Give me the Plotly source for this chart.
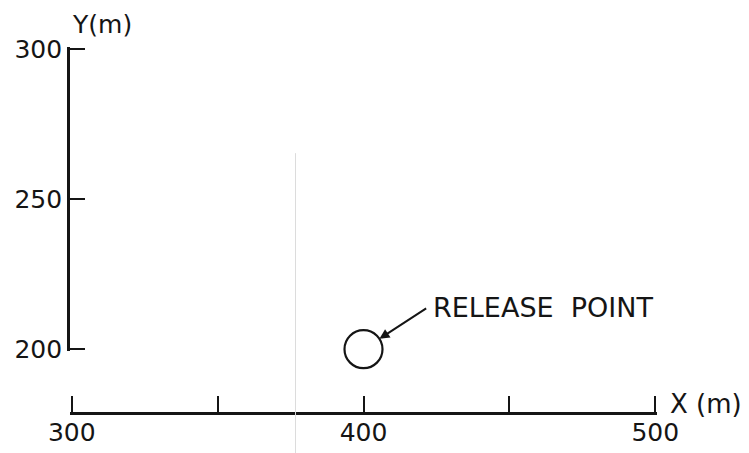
import plotly.graph_objects as go

# Release point location (m)
release_x = [400]
release_y = [200]

# Axis ticks
x_ticks = [300, 350, 400, 450, 500]
x_tick_text = ["300", "", "400", "", "500"]
y_ticks = [200, 250, 300]
y_tick_text = ["200", "250", "300"]

FONT = "DejaVu Sans"
INK = "#151515"

fig = go.Figure()

fig.add_trace(go.Scatter(
    x=release_x, y=release_y, mode="markers",
    marker=dict(symbol="circle-open", size=38, color=INK, line=dict(width=2.2, color=INK)),
    cliponaxis=False, showlegend=False, hoverinfo="skip",
))

# faint fold line running down the sheet
fig.add_shape(type="line", xref="x", yref="paper", x0=376.7, x1=376.7, y0=-0.2, y1=0.71,
              line=dict(color="#dcdcdc", width=1))

# leader arrow from the label to the circle
fig.add_annotation(x=release_x[0], y=release_y[0], xref="x", yref="y",
                   ax=422, ay=213.9, axref="x", ayref="y", text="",
                   showarrow=True, arrowhead=2, arrowsize=1.0, arrowwidth=2.0,
                   arrowcolor=INK, standoff=19)
fig.add_annotation(x=423.3, y=213.9, xref="x", yref="y", text="RELEASE\u00a0\u00a0POINT",
                   showarrow=False, xanchor="left", yanchor="middle", yshift=0,
                   font=dict(family=FONT, size=27, color=INK))

# axis titles
fig.add_annotation(x=0.0545, y=1.0628, xref="paper", yref="paper", text="Y(m)",
                   showarrow=False, xanchor="center", yanchor="middle",
                   font=dict(family=FONT, size=25, color=INK))
fig.add_annotation(x=1.0835, y=0.0246, xref="paper", yref="paper", text="X\u00a0(m)",
                   showarrow=False, xanchor="center", yanchor="middle",
                   font=dict(family=FONT, size=26, color=INK))

fig.update_layout(
    width=749, height=453,
    margin=dict(l=70, r=92, t=47, b=40, autoexpand=False),
    paper_bgcolor="white", plot_bgcolor="white",
    xaxis=dict(range=[299.4, 500.6], anchor="free", position=0, automargin=False,
               tickmode="array", tickvals=x_ticks, ticktext=x_tick_text,
               ticks="inside", ticklen=16, tickwidth=2.2, tickcolor=INK,
               ticklabelstandoff=-4,
               showline=True, linewidth=2.6, linecolor=INK,
               showgrid=False, zeroline=False,
               tickfont=dict(family=FONT, size=25, color=INK)),
    yaxis=dict(range=[199.4, 300.6], domain=[0.1694, 1], anchor="x", automargin=False,
               tickmode="array", tickvals=y_ticks, ticktext=y_tick_text,
               ticks="inside", ticklen=15, tickwidth=2.2, tickcolor=INK,
               showline=True, linewidth=2.6, linecolor=INK,
               showgrid=False, zeroline=False,
               tickfont=dict(family=FONT, size=25, color=INK)),
)

fig.write_html("out.html")
